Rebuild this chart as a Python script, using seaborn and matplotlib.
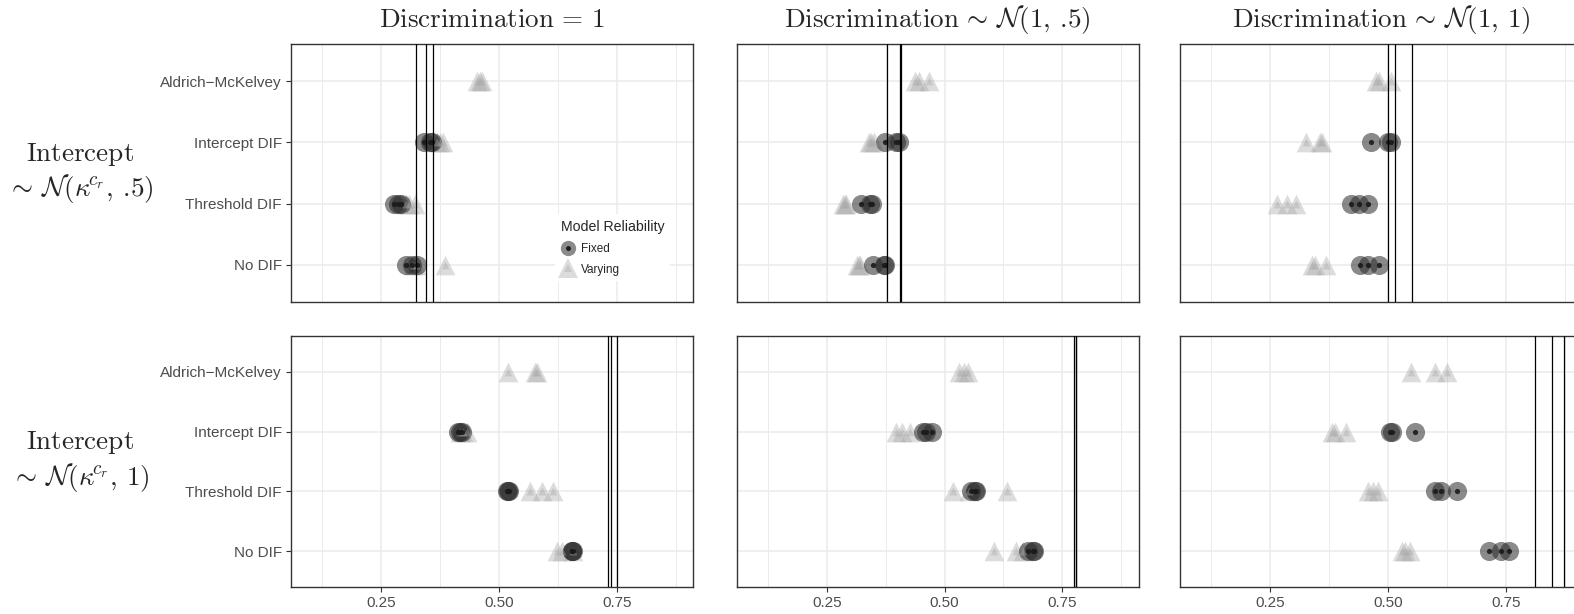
import numpy as np
import pandas as pd
import matplotlib
matplotlib.use("Agg")
import matplotlib.pyplot as plt
import seaborn as sns
from matplotlib.lines import Line2D

sns.set_theme(style="white")
plt.rcParams["font.family"] = ["Liberation Sans", "DejaVu Sans"]
plt.rcParams["mathtext.fontset"] = "cm"

# y categories, top to bottom
models = ["Aldrich\u2212McKelvey", "Intercept DIF", "Threshold DIF", "No DIF"]

col_titles = [r"$\mathrm{Discrimination}\,=\,1$",
              r"$\mathrm{Discrimination}\,\sim\,\mathcal{N}(1,\,.\!5)$",
              r"$\mathrm{Discrimination}\,\sim\,\mathcal{N}(1,\,1)$"]
row_titles = ["$\\mathrm{Intercept}$\n$\\sim\\,\\mathcal{N}(\\kappa^{\\!c_r},\\,.\\!5)$",
              "$\\mathrm{Intercept}$\n$\\sim\\,\\mathcal{N}(\\kappa^{\\!c_r},\\,1)$"]

# fixed: Intercept DIF, Threshold DIF, No DIF
# varying: Aldrich-McKelvey, Intercept DIF, Threshold DIF, No DIF
fixed_r1c1 = [[0.341, 0.353, 0.359], [0.277, 0.285, 0.293], [0.304, 0.316, 0.327]]
varying_r1c1 = [[0.454, 0.460, 0.465], [0.369, 0.376, 0.381], [0.302, 0.309, 0.323], [0.318, 0.325, 0.385]]
truth_r1c1 = [0.325, 0.346, 0.360]

fixed_r1c2 = [[0.373, 0.396, 0.403], [0.322, 0.342, 0.347], [0.348, 0.371, 0.374]]
varying_r1c2 = [[0.438, 0.445, 0.467], [0.339, 0.345, 0.351], [0.285, 0.288, 0.291], [0.314, 0.318, 0.321]]
truth_r1c2 = [0.377, 0.405, 0.407]

fixed_r1c3 = [[0.464, 0.500, 0.507], [0.421, 0.438, 0.457], [0.440, 0.457, 0.482]]
varying_r1c3 = [[0.475, 0.482, 0.507], [0.327, 0.357, 0.361], [0.264, 0.286, 0.305], [0.340, 0.346, 0.368]]
truth_r1c3 = [0.500, 0.516, 0.551]

fixed_r2c1 = [[0.413, 0.417, 0.422], [0.517, 0.519, 0.521], [0.655, 0.656, 0.658]]
varying_r2c1 = [[0.520, 0.576, 0.581], [0.418, 0.425, 0.433], [0.567, 0.592, 0.615], [0.624, 0.635, 0.658]]
truth_r2c1 = [0.732, 0.737, 0.750]

fixed_r2c2 = [[0.455, 0.460, 0.473], [0.557, 0.565, 0.567], [0.678, 0.688, 0.690]]
varying_r2c2 = [[0.531, 0.542, 0.550], [0.396, 0.410, 0.426], [0.518, 0.552, 0.633], [0.606, 0.652, 0.666]]
truth_r2c2 = [0.775, 0.778, 0.780]

fixed_r2c3 = [[0.505, 0.509, 0.557], [0.601, 0.612, 0.646], [0.714, 0.741, 0.758]]
varying_r2c3 = [[0.550, 0.601, 0.625], [0.382, 0.387, 0.412], [0.458, 0.468, 0.480], [0.530, 0.537, 0.546]]
truth_r2c3 = [0.812, 0.848, 0.874]

panels = [
    [(fixed_r1c1, varying_r1c1, truth_r1c1), (fixed_r1c2, varying_r1c2, truth_r1c2), (fixed_r1c3, varying_r1c3, truth_r1c3)],
    [(fixed_r2c1, varying_r2c1, truth_r2c1), (fixed_r2c2, varying_r2c2, truth_r2c2), (fixed_r2c3, varying_r2c3, truth_r2c3)],
]


def long_frame(fixed, varying):
    rows = []
    for m, vals in zip(models[1:], fixed):
        rows += [(m, "Fixed", v) for v in vals]
    for m, vals in zip(models, varying):
        rows += [(m, "Varying", v) for v in vals]
    df = pd.DataFrame(rows, columns=["model", "reliability", "value"])
    df["pos"] = df["model"].map({m: i for i, m in enumerate(models)})
    return df


W, H = 1574, 614
fig = plt.figure(figsize=(W / 100, H / 100), dpi=100)

lefts = [291, 736.7, 1180]
width = 402
rows_px = [(44.3, 301.7), (335.7, 587.3)]

for r in range(2):
    top, bot = rows_px[r]
    for c in range(3):
        fixed, varying, truth = panels[r][c]
        df = long_frame(fixed, varying)
        ax = fig.add_axes([lefts[c] / W, 1 - bot / H, width / W, (bot - top) / H])

        fx = df[df.reliability == "Fixed"]
        vr = df[df.reliability == "Varying"]
        # outer markers
        sns.scatterplot(data=vr, x="value", y="pos", marker="^", s=200, color="#a8a8a8",
                        alpha=0.4, linewidth=0, legend=False, ax=ax, zorder=2)
        sns.scatterplot(data=fx, x="value", y="pos", marker="o", s=190, color="#2a2a2a",
                        alpha=0.55, linewidth=0, legend=False, ax=ax, zorder=2)
        # inner markers
        sns.scatterplot(data=vr, x="value", y="pos", marker="^", s=32, color="#a8a8a8",
                        alpha=0.4, linewidth=0, legend=False, ax=ax, zorder=2)
        sns.scatterplot(data=fx, x="value", y="pos", marker="o", s=14, color="#1a1a1a",
                        alpha=0.9, linewidth=0, legend=False, ax=ax, zorder=2)

        for v in truth:
            ax.axvline(v, color="black", lw=0.9, zorder=3)

        ax.set_xlim(0.059, 0.912)
        ax.set_ylim(3.6, -0.6)
        ax.set_xticks([0.25, 0.50, 0.75])
        ax.set_xticklabels(["0.25", "0.50", "0.75"])
        ax.set_xticks([0.125, 0.375, 0.625, 0.875], minor=True)
        ax.set_yticks(range(len(models)))
        ax.set_yticklabels(models)
        ax.set_xlabel("")
        ax.set_ylabel("")
        ax.set_axisbelow(True)
        ax.grid(which="major", color="#ebebeb", lw=1.1)
        ax.grid(which="minor", axis="x", color="#ebebeb", lw=0.7)
        for s in ax.spines.values():
            s.set_color("#333333")
            s.set_linewidth(1.0)
        ax.tick_params(which="major", length=3.5, width=0.8, color="#333333",
                       labelsize=11, labelcolor="#4d4d4d", pad=3,
                       bottom=(r == 1), labelbottom=(r == 1),
                       left=(c == 0), labelleft=(c == 0))
        ax.tick_params(which="minor", length=0)

        if r == 0:
            fig.text((lefts[c] + width / 2) / W, 1 - 20 / H, col_titles[c],
                     ha="center", va="center", fontsize=19.5)
        if c == 0:
            fig.text(80 / W, 1 - ((top + bot) / 2) / H, row_titles[r],
                     ha="center", va="center", fontsize=19.5, multialignment="center",
                     linespacing=1.2)

        if r == 0 and c == 0:
            h_fixed = (Line2D([], [], ls="", marker="o", ms=11, color="#2a2a2a", alpha=0.55, mew=0),
                       Line2D([], [], ls="", marker="o", ms=3.5, color="#1a1a1a", mew=0))
            h_vary = (Line2D([], [], ls="", marker="^", ms=14, color="#a8a8a8", alpha=0.4, mew=0),
                      Line2D([], [], ls="", marker="^", ms=5.5, color="#a8a8a8", alpha=0.4, mew=0))
            leg = ax.legend([h_fixed, h_vary], ["Fixed", "Varying"], title="Model Reliability",
                            loc="center", bbox_to_anchor=(0.80, 0.21), frameon=True,
                            fontsize=8.5, title_fontsize=10.2, handletextpad=0.4,
                            borderpad=0.5, labelspacing=0.75, handlelength=1.3,
                            alignment="left")
            leg.get_frame().set_facecolor("white")
            leg.get_frame().set_edgecolor("none")
            leg.get_frame().set_alpha(1)
            leg.set_zorder(4)

fig.savefig("out.png", dpi=100)
